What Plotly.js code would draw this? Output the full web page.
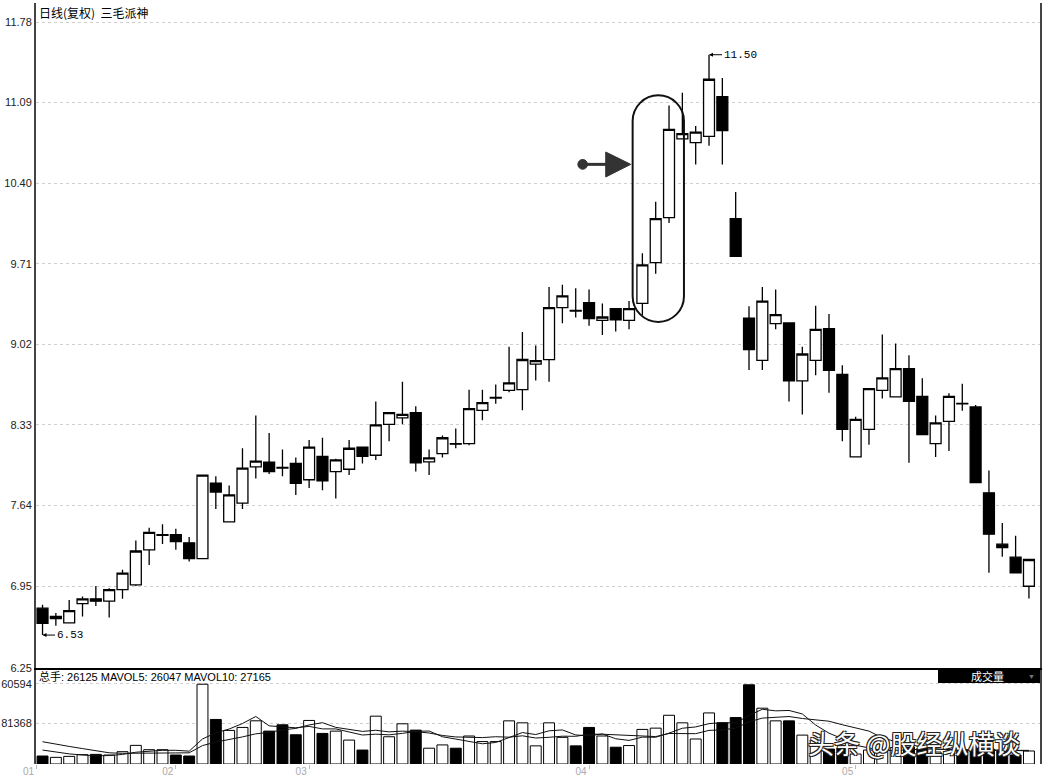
<!DOCTYPE html>
<html>
<head>
<meta charset="utf-8">
<script src="https://cdn.plot.ly/plotly-3.0.1.min.js"></script>
<style>html,body{margin:0;padding:0;background:#fff;}#chart{width:1045px;height:779px;}</style>
</head>
<body>
<div id="chart"></div>
<script>
// ---- data ----
const open  = [6.76,6.67,6.635,6.80,6.84,6.82,6.92,6.96,7.26,7.385,7.39,7.32,7.185,7.83,7.50,7.66,7.97,8.01,7.965,8.00,
               7.86,8.06,7.93,7.95,8.14,8.07,8.335,8.39,8.435,8.013,8.084,8.17,8.17,8.455,8.56,8.626,8.632,8.85,8.889,9.334,
               9.31,9.377,9.225,9.325,9.225,9.37,9.72,10.105,10.78,10.747,10.80,11.14,10.096,9.245,8.883,9.197,9.203,8.707,8.883,9.154,
               8.763,8.056,8.292,8.626,8.57,8.812,8.575,8.17,8.36,8.515,8.484,7.748,7.308,7.197,6.948];
const high  = [6.79,6.72,6.83,6.86,6.95,6.93,7.09,7.34,7.45,7.48,7.44,7.37,7.90,7.89,7.81,8.13,8.41,8.26,8.12,8.05,
               8.20,8.22,8.04,8.20,8.14,8.53,8.44,8.70,8.49,8.12,8.24,8.30,8.63,8.63,8.675,9.00,9.126,9.01,9.51,9.53,
               9.50,9.49,9.37,9.325,9.39,9.80,10.24,11.066,11.175,10.89,11.50,11.30,10.325,9.345,9.51,9.49,9.203,9.00,9.35,9.28,
               8.84,8.40,8.64,9.105,9.026,8.926,8.73,8.41,8.60,8.683,8.50,7.94,7.49,7.38,7.18];
const low   = [6.53,6.61,6.63,6.69,6.78,6.68,6.84,6.95,7.13,7.31,7.26,7.16,7.185,7.61,7.50,7.61,7.87,7.91,7.89,7.73,
               7.79,7.77,7.70,7.90,8.00,8.03,8.19,8.335,7.93,7.90,8.05,8.13,8.155,8.37,8.51,8.61,8.455,8.71,8.70,9.20,
               9.25,9.18,9.10,9.13,9.15,9.27,9.625,10.06,10.78,10.56,10.72,10.56,9.773,8.80,8.80,9.15,8.53,8.42,8.755,8.605,
               8.19,8.056,8.16,8.555,8.57,8.005,8.247,8.056,8.107,8.45,7.836,7.063,7.20,7.063,6.843];
const close = [6.63,6.69,6.74,6.84,6.82,6.92,7.06,7.25,7.41,7.39,7.33,7.185,7.90,7.755,7.73,7.96,8.02,7.93,7.96,7.83,
               8.14,7.85,8.03,8.13,8.06,8.33,8.435,8.42,8.005,8.047,8.22,8.165,8.47,8.52,8.565,8.69,8.89,8.88,9.334,9.434,
               9.305,9.24,9.254,9.23,9.325,9.70,10.096,10.86,10.824,10.838,11.29,10.85,9.773,8.974,9.39,9.274,8.707,8.937,9.148,8.797,
               8.292,8.378,8.64,8.732,8.812,8.532,8.247,8.347,8.575,8.51,7.836,7.394,7.28,7.063,7.177];
const volume = [16000,13300,15300,18700,19300,18000,24700,37400,28700,28700,18000,16000,160100,89400,67400,73400,86700,66000,78700,58700,
                87400,61400,66000,48000,28000,96000,54700,80700,68000,31700,38300,31700,56200,45000,45000,86600,82600,36400,82600,53500,
                36400,73400,56200,33700,37000,69400,72000,97800,82600,50200,102500,82600,93200,159000,112000,86600,86600,58000,48000,30000,
                32000,20000,28000,25000,33000,34000,31000,24000,25000,28000,31000,30000,26000,18000,26125];
// volumes before the first visible day (estimated from where the average lines start)
const prevVolumes = [65000,58000,62000,60000,62000,35000,32000,30000,27000];
const monthTickLabels = ['01','02','03','04','05'];
const monthTickIndex  = [-0.45,10,20,41,61];
const priceTicks = [6.25,6.95,7.64,8.33,9.02,9.71,10.40,11.09,11.78];
const volTicks = [81368,160594];
const volTickLabels = ['81368','60594'];
const titleText = '日线(复权)  三毛派神';
const volHeader = '总手: 26125 MAVOL5: 26047 MAVOL10: 27165';

// ---- derived ----
const idx = open.map((_, i) => i);
function movingAvg(vals, prev, n) {
  const all = prev.concat(vals);
  return vals.map((_, i) => {
    const end = prev.length + i;
    let s = 0;
    for (let k = end - n + 1; k <= end; k++) s += all[k];
    return s / n;
  });
}
const ma5 = movingAvg(volume, prevVolumes, 5);
const ma10 = movingAvg(volume, prevVolumes, 10);
const volColors = idx.map(i => close[i] >= open[i] ? '#ffffff' : '#000000');
let hiI = 0, loI = 0;
idx.forEach(i => { if (high[i] > high[hiI]) hiI = i; if (low[i] < low[loI]) loI = i; });

// ---- layout geometry ----
const W = 1045, H = 779;
const mL = 36, mR = 5, mT = 3, mB = 15;
const plotH = H - mT - mB; // 761
const splitPx = 668;       // separator between price and volume panels
const volFrac = (H - mB - splitPx) / plotH;
const px2paperY = y => (H - mB - y) / plotH;
const px2paperX = x => (x - mL) / (W - mL - mR);
const xRange = [-0.49, 74.83];
const yRange = [6.248, 11.943];
const volTop = 192670;

const traces = [
  {
    type: 'candlestick', x: idx, open: open, high: high, low: low, close: close,
    xaxis: 'x2', yaxis: 'y',
    increasing: {line: {color: '#000', width: 1.3}, fillcolor: '#ffffff'},
    decreasing: {line: {color: '#000', width: 1.3}, fillcolor: '#000000'},
    whiskerwidth: 0, hoverinfo: 'skip'
  },
  {
    type: 'bar', x: idx, y: volume, xaxis: 'x', yaxis: 'y2',
    marker: {color: volColors, line: {color: '#000', width: 1}}, hoverinfo: 'skip'
  },
  {
    type: 'scatter', mode: 'lines', x: idx, y: ma5, xaxis: 'x', yaxis: 'y2',
    line: {color: '#111', width: 1}, hoverinfo: 'skip'
  },
  {
    type: 'scatter', mode: 'lines', x: idx, y: ma10, xaxis: 'x', yaxis: 'y2',
    line: {color: '#111', width: 1}, hoverinfo: 'skip'
  }
];

// highlight oval (stadium) around the three rising candles
const ov = {xl: 44.27, xr: 48.12, yt: 11.152, yb: 9.212, ry: 0.22};
const k = 0.5523, rx = (ov.xr - ov.xl) / 2, xm = (ov.xl + ov.xr) / 2;
const ovalPath = [
  'M', ov.xl, ov.yt - ov.ry,
  'C', ov.xl, ov.yt - ov.ry + k * ov.ry, xm - k * rx, ov.yt, xm, ov.yt,
  'C', xm + k * rx, ov.yt, ov.xr, ov.yt - ov.ry + k * ov.ry, ov.xr, ov.yt - ov.ry,
  'L', ov.xr, ov.yb + ov.ry,
  'C', ov.xr, ov.yb + ov.ry - k * ov.ry, xm + k * rx, ov.yb, xm, ov.yb,
  'C', xm - k * rx, ov.yb, ov.xl, ov.yb + ov.ry - k * ov.ry, ov.xl, ov.yb + ov.ry,
  'Z'
].map((v, i) => typeof v === 'number' ? v.toFixed(4) : v).join(' ');

const pointer = {cx: 40.52, cy: 10.561, baseX: 42.25, tipX: 44.13, top: 10.667, bot: 10.453};

const layout = {
  width: W, height: H,
  margin: {l: mL, r: mR, t: mT, b: mB, pad: 0},
  paper_bgcolor: '#ffffff', plot_bgcolor: '#ffffff',
  showlegend: false, hovermode: false,
  boxgap: 0.1, boxgroupgap: 0.09, bargap: 0.18,
  font: {family: 'Liberation Sans, Arial, sans-serif', size: 11, color: '#222'},
  xaxis: {
    domain: [0, 1], anchor: 'y2', range: xRange, fixedrange: true,
    tickmode: 'array', tickvals: monthTickIndex, ticktext: monthTickLabels,
    ticks: 'outside', ticklen: 4, tickcolor: '#bbb', tickwidth: 1,
    tickfont: {size: 10, color: '#aaa'}, ticklabelshift: -8, ticklabelstandoff: -6,
    showgrid: false, zeroline: false, showline: false,
    rangeslider: {visible: false}
  },
  xaxis2: {
    domain: [0, 1], anchor: 'y', matches: 'x', range: xRange, fixedrange: true,
    showticklabels: false, ticks: '', showgrid: false, zeroline: false,
    showline: true, linecolor: '#000', linewidth: 1.5,
    rangeslider: {visible: false}
  },
  yaxis: {
    domain: [volFrac, 1], anchor: 'x2', range: yRange, fixedrange: true,
    tickmode: 'array', tickvals: priceTicks, ticktext: priceTicks.map(v => v.toFixed(2)),
    ticks: '', showgrid: true, gridcolor: '#cfcfcf', griddash: 'dot', gridwidth: 1,
    zeroline: false, showline: true, mirror: true, linecolor: '#444', linewidth: 2,
    tickfont: {size: 11, color: '#222'}
  },
  yaxis2: {
    domain: [0, volFrac], anchor: 'x', range: [0, volTop], fixedrange: true,
    tickmode: 'array', tickvals: volTicks, ticktext: volTickLabels,
    ticks: '', showgrid: true, gridcolor: '#cfcfcf', griddash: 'dot', gridwidth: 1,
    zeroline: false, showline: true, mirror: true, linecolor: '#444', linewidth: 2,
    tickfont: {size: 11, color: '#222'}
  },
  shapes: [
    {type: 'path', xref: 'x2', yref: 'y', path: ovalPath, line: {color: '#111', width: 2}, fillcolor: 'rgba(0,0,0,0)'},
    {type: 'line', xref: 'x2', yref: 'y', x0: pointer.cx, x1: pointer.baseX + 0.1, y0: pointer.cy, y1: pointer.cy,
     line: {color: '#333', width: 3}},
    {type: 'circle', xref: 'x2', yref: 'y', x0: pointer.cx - 0.36, x1: pointer.cx + 0.36,
     y0: pointer.cy - 0.042, y1: pointer.cy + 0.042, fillcolor: '#333', line: {color: '#333', width: 1}},
    {type: 'path', xref: 'x2', yref: 'y',
     path: `M ${pointer.baseX} ${pointer.top} L ${pointer.tipX} ${pointer.cy} L ${pointer.baseX} ${pointer.bot} Z`,
     fillcolor: '#333', line: {color: '#333', width: 1}},
    {type: 'rect', xref: 'paper', yref: 'paper', x0: px2paperX(938), x1: 1,
     y0: px2paperY(683), y1: px2paperY(669), fillcolor: '#000', line: {width: 0}}
  ],
  annotations: [
    {xref: 'paper', yref: 'paper', x: px2paperX(37), y: px2paperY(12), xanchor: 'left', yanchor: 'middle',
     text: titleText, showarrow: false, font: {family: 'Noto Sans CJK SC, sans-serif', size: 12, color: '#000'}},
    {xref: 'paper', yref: 'paper', x: px2paperX(37), y: px2paperY(676), xanchor: 'left', yanchor: 'middle',
     text: volHeader, showarrow: false, font: {family: 'Liberation Sans, Noto Sans CJK SC, sans-serif', size: 11, color: '#000'}},
    {xref: 'paper', yref: 'paper', x: px2paperX(987), y: px2paperY(676), xanchor: 'center', yanchor: 'middle',
     text: '成交量', showarrow: false, font: {family: 'Noto Sans CJK SC, sans-serif', size: 11, color: '#fff'}},
    {xref: 'paper', yref: 'paper', x: px2paperX(1031), y: px2paperY(676), xanchor: 'center', yanchor: 'middle',
     text: '▼', showarrow: false, font: {size: 7, color: '#777'}},
    {xref: 'x2', yref: 'y', x: hiI, y: high[hiI], text: high[hiI].toFixed(2),
     showarrow: true, ax: 31, ay: 0, arrowhead: 2, arrowsize: 0.8, arrowwidth: 1, arrowcolor: '#000', standoff: 0,
     font: {family: 'Liberation Mono, monospace', size: 11, color: '#000'}},
    {xref: 'x2', yref: 'y', x: loI, y: low[loI], text: low[loI].toFixed(2),
     showarrow: true, ax: 27, ay: 0, arrowhead: 2, arrowsize: 0.8, arrowwidth: 1, arrowcolor: '#000', standoff: 0,
     font: {family: 'Liberation Mono, monospace', size: 11, color: '#000'}},
    {xref: 'paper', yref: 'paper', x: px2paperX(914), y: px2paperY(742), xanchor: 'center', yanchor: 'middle',
     text: '头条 @股经纵横谈', showarrow: false,
     font: {family: 'Noto Sans CJK SC, sans-serif', size: 26, color: '#ffffff',
            shadow: '-1px -1px 0 #222, 1px -1px 0 #222, -1px 1px 0 #222, 1px 1px 0 #222'}}
  ]
};

Plotly.newPlot('chart', traces, layout, {displayModeBar: false, staticPlot: true});
</script>
</body>
</html>
